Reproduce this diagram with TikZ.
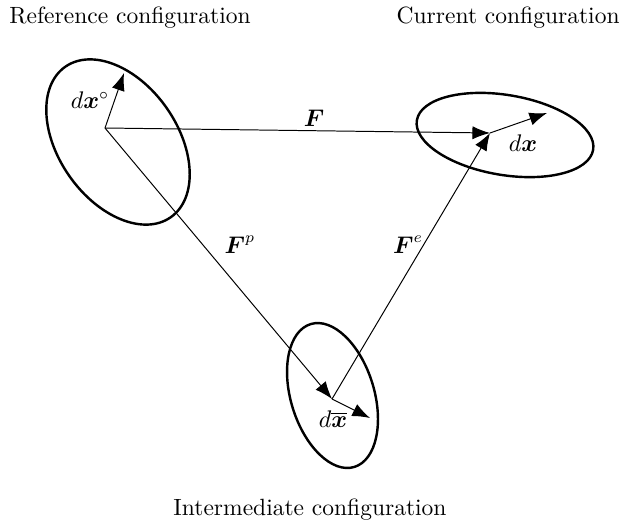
\documentclass[tikz,border=0pt]{standalone}
\usepackage{tikz}
\usetikzlibrary{arrows.meta, positioning, calc}
\usepackage{amsmath}

\tikzset{
  body/.style={draw, line width=1.1pt},
  map/.style={-{Latex[length=8pt,width=6pt]}, line width=0.45pt},
  every node/.style={font=\fontsize{10.7}{13}\selectfont},
}

\begin{document}
\begin{tikzpicture}
        \useasboundingbox (0,0) rectangle (9.904,8.432);

        % configurations
        \draw[body] (1.888,6.16) ellipse[x radius=1.47, y radius=0.95, rotate=-55];
        \draw[body] (8.08,6.272) ellipse[x radius=1.43, y radius=0.64, rotate=-9.5];
        \draw[body] (5.32,2.104) ellipse[x radius=1.195, y radius=0.667, rotate=-73];

        \coordinate (o1) at (1.68,6.384);
        \coordinate (o2) at (7.84,6.304);
        \coordinate (o3) at (5.312,2.048);
        \coordinate (t1) at (1.984,7.264);
        \coordinate (t2) at (8.752,6.624);
        \coordinate (t3) at (5.92,1.744);

        % line elements
        \draw[map] (o1) -- (t1);
        \draw[map] (o2) -- (t2);
        \draw[map] (o3) -- (t3);

        % maps
        \draw[map] (o1) -- (o2);
        \draw[map] (o1) -- (o3);
        \draw[map] (o3) -- (o2);

        \node (lf) at (5.024,6.544) {$\boldsymbol{F}$};
        \node (lfp) at (3.84,4.51) {$\boldsymbol{F}^p$};
        \node (lfe) at (6.53,4.51) {$\boldsymbol{F}^e$};
        \node (ld1) at (1.44,6.832) {$d\boldsymbol{x}^\circ$};
        \node (ld2) at (8.37,6.14) {$d\boldsymbol{x}$};
        \node (ld3) at (5.33,1.73) {$d\overline{\boldsymbol{x}}$};

        \node (ref) at (2.08,8.144) {Reference configuration};
        \node (cur) at (8.13,8.144) {Current configuration};
        \node (int) at (4.96,0.272) {Intermediate configuration};
    \end{tikzpicture}
\end{document}
